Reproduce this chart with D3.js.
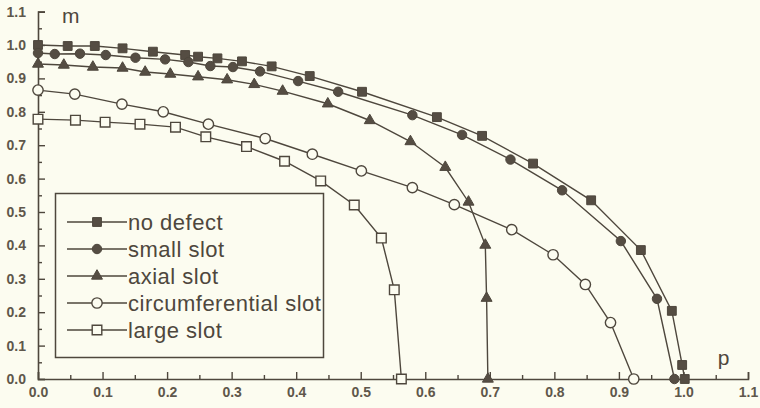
<!DOCTYPE html>
<html><head><meta charset="utf-8">
<script src="https://cdn.jsdelivr.net/npm/d3@7"></script>
<style>html,body{margin:0;padding:0;background:#fcfcf0;}svg{display:block}</style>
</head><body><svg id="c" width="760" height="408"></svg>
<script>
// ---- data (p, m) ----
const noDefect = [[0,1.0],[0.046,0.997],[0.088,0.997],[0.131,0.99],[0.178,0.98],[0.228,0.97],[0.248,0.965],[0.278,0.96],[0.316,0.951],[0.362,0.936],[0.421,0.907],[0.502,0.86],[0.618,0.784],[0.688,0.728],[0.767,0.645],[0.857,0.535],[0.934,0.386],[0.982,0.204],[0.998,0.042],[1.002,0]];
const smallSlot = [[0,0.976],[0.026,0.973],[0.065,0.974],[0.105,0.97],[0.151,0.962],[0.197,0.957],[0.233,0.949],[0.267,0.937],[0.302,0.934],[0.344,0.921],[0.403,0.892],[0.465,0.86],[0.58,0.79],[0.657,0.731],[0.732,0.657],[0.812,0.565],[0.903,0.413],[0.959,0.24],[0.986,0]];
const axialSlot = [[0,0.943],[0.04,0.94],[0.085,0.934],[0.131,0.931],[0.166,0.919],[0.205,0.913],[0.248,0.905],[0.293,0.896],[0.335,0.882],[0.379,0.862],[0.449,0.824],[0.514,0.774],[0.577,0.711],[0.631,0.634],[0.667,0.53],[0.693,0.401],[0.695,0.242],[0.697,0]];
const circSlot = [[0,0.865],[0.057,0.853],[0.13,0.823],[0.194,0.8],[0.264,0.763],[0.352,0.72],[0.425,0.673],[0.501,0.623],[0.58,0.573],[0.645,0.522],[0.734,0.447],[0.798,0.372],[0.848,0.283],[0.887,0.169],[0.923,0]];
const largeSlot = [[0,0.778],[0.058,0.775],[0.104,0.769],[0.158,0.763],[0.213,0.754],[0.26,0.725],[0.323,0.696],[0.382,0.652],[0.438,0.593],[0.49,0.521],[0.532,0.422],[0.552,0.267],[0.563,0]];
const seriesNames = ["no defect","small slot","axial slot","circumferential slot","large slot"];
const seriesShapes = ["square","circle","triangle","circle","square"];
const seriesFilled = [true,true,true,false,false];
const xTicks = [0,0.1,0.2,0.3,0.4,0.5,0.6,0.7,0.8,0.9,1.0,1.1];
const yTicks = [0,0.1,0.2,0.3,0.4,0.5,0.6,0.7,0.8,0.9,1.0,1.1];
const minorTicks = [0.05,0.15,0.25,0.35,0.45,0.55,0.65,0.75,0.85,0.95,1.05];
const xLabel = "p", yLabel = "m";

const INK = "#4e473d", LABEL = "#5f574b", BG = "#fcfcf0";
const svg = d3.select("#c");
svg.append("rect").attr("width",760).attr("height",408).attr("fill",BG);

const x = d3.scaleLinear().domain([0,1.1]).range([38,748]);
const y = d3.scaleLinear().domain([0,1.1]).range([379,11.6]);

// axes
function styleAxis(g){
  g.selectAll("path.domain").attr("stroke",INK).attr("stroke-width",1.6);
  g.selectAll(".tick line").attr("stroke",INK).attr("stroke-width",1.4);
  g.selectAll(".tick text").attr("fill",LABEL).attr("font-family","'Liberation Sans',Arial,sans-serif")
    .attr("font-weight","bold").attr("font-size",14);
}
const fmt = d3.format(".1f");
svg.append("g").attr("transform",`translate(0,${y(0)})`)
  .call(d3.axisBottom(x).tickValues(minorTicks).tickSize(-4).tickFormat(""))
  .call(g=>g.select(".domain").remove()).call(styleAxis);
svg.append("g").attr("transform",`translate(${x(0)},0)`)
  .call(d3.axisLeft(y).tickValues(minorTicks).tickSize(-4).tickFormat(""))
  .call(g=>g.select(".domain").remove()).call(styleAxis);
svg.append("g").attr("transform",`translate(0,${y(0)})`)
  .call(d3.axisBottom(x).tickValues(xTicks).tickSize(-7).tickPadding(8).tickFormat(fmt))
  .call(styleAxis);
svg.append("g").attr("transform",`translate(${x(0)},0)`)
  .call(d3.axisLeft(y).tickValues(yTicks).tickSize(-7).tickPadding(12).tickFormat(fmt))
  .call(styleAxis);

svg.append("text").attr("x",x(0)+24).attr("y",y(1.1)+11).text(yLabel)
  .attr("font-family","'Liberation Sans',Arial,sans-serif").attr("font-size",21).attr("fill",INK);
svg.append("text").attr("x",x(1.05)+2).attr("y",y(0)-14).text(xLabel)
  .attr("font-family","'Liberation Sans',Arial,sans-serif").attr("font-size",21).attr("fill",INK);

const symType = {square:d3.symbolSquare, circle:d3.symbolCircle, triangle:d3.symbolTriangle};
const symSize = {square:78, circle:70, triangle:52};
function marker(sel, i){
  const s = seriesShapes[i];
  sel.attr("d", d3.symbol().type(symType[s]).size(seriesFilled[i] ? symSize[s] : symSize[s]+14)())
    .attr("fill", seriesFilled[i] ? "#554d43" : BG)
    .attr("stroke", INK).attr("stroke-width", seriesFilled[i] ? 1 : 1.4);
}

const allSeries = [noDefect, smallSlot, axialSlot, circSlot, largeSlot];
const line = d3.line().x(d=>x(d[0])).y(d=>y(d[1]));
allSeries.forEach((data,i)=>{
  svg.append("path").attr("d",line(data)).attr("fill","none").attr("stroke",INK).attr("stroke-width",1.4);
});
allSeries.forEach((data,i)=>{
  svg.append("g").selectAll("path").data(data).join("path")
    .attr("transform",d=>`translate(${x(d[0])},${y(d[1])})`)
    .each(function(){ marker(d3.select(this), i); });
});

// legend
const lg = svg.append("g");
lg.append("rect").attr("x",55.5).attr("y",193.5).attr("width",268).attr("height",164)
  .attr("fill",BG).attr("stroke",INK).attr("stroke-width",1.5);
seriesNames.forEach((name,i)=>{
  const cy = 222 + 27*i;
  lg.append("line").attr("x1",67).attr("x2",127).attr("y1",cy).attr("y2",cy).attr("stroke",INK).attr("stroke-width",1.4);
  lg.append("path").attr("transform",`translate(97,${cy})`).call(s=>marker(s,i));
  lg.append("text").attr("x",128).attr("y",cy).attr("dy","0.35em").text(name)
    .attr("font-family","'Liberation Sans',Arial,sans-serif").attr("font-size",22)
    .attr("letter-spacing","0.5px").attr("fill",INK);
});
</script></body></html>
